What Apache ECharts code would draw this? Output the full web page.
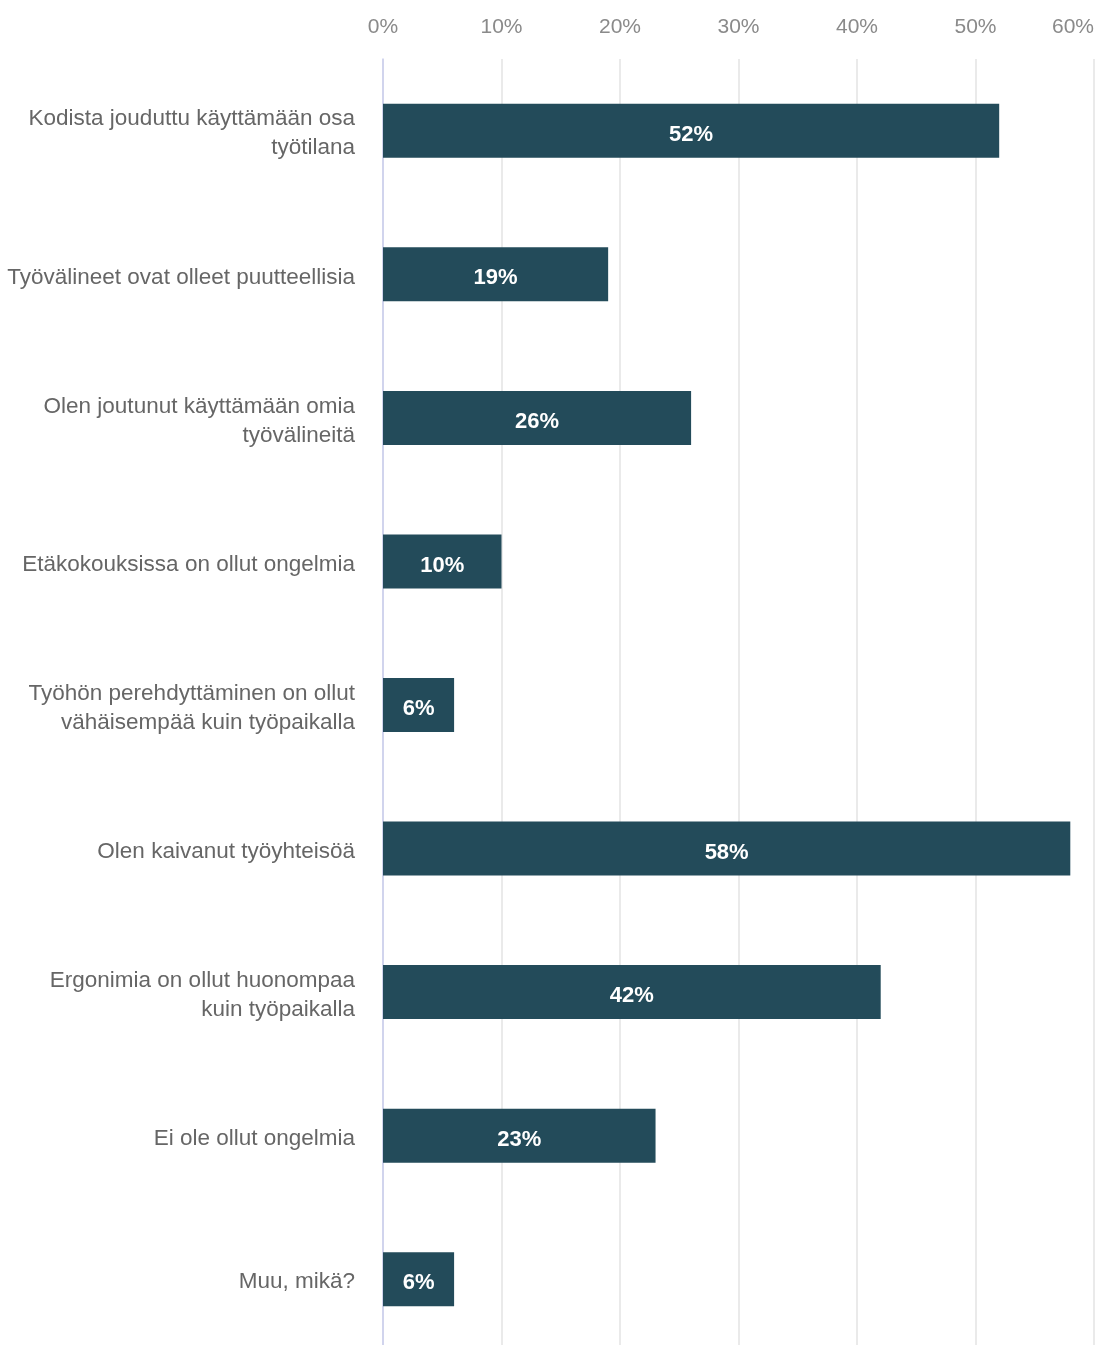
<!DOCTYPE html>
<html>
<head>
<meta charset="utf-8">
<script src="https://cdn.jsdelivr.net/npm/echarts@6/dist/echarts.min.js"></script>
<style>
  html, body { margin: 0; padding: 0; background: #ffffff; overflow: hidden; }
  /* plot area runs a little past the bottom edge of the page */
  #chart { width: 1097px; height: 1360px; }
</style>
</head>
<body>
<div id="chart"></div>
<script>
// Survey answers: problems encountered while working remotely
const categories = [
  'Kodista jouduttu käyttämään osa\ntyötilana',
  'Työvälineet ovat olleet puutteellisia',
  'Olen joutunut käyttämään omia\ntyövälineitä',
  'Etäkokouksissa on ollut ongelmia',
  'Työhön perehdyttäminen on ollut\nvähäisempää kuin työpaikalla',
  'Olen kaivanut työyhteisöä',
  'Ergonimia on ollut huonompaa\nkuin työpaikalla',
  'Ei ole ollut ongelmia',
  'Muu, mikä?'
];
const shares = [52, 19, 26, 10, 6, 58, 42, 23, 6];
const axisMax = 60;
const axisStep = 10;

const chart = echarts.init(document.getElementById('chart'), null, { renderer: 'canvas' });
const font = '"Liberation Sans", Arial, Helvetica, sans-serif';

chart.setOption({
  animation: false,
  backgroundColor: '#ffffff',
  grid: { left: 383, right: 2, top: 59, height: 1292, containLabel: false },
  xAxis: {
    type: 'value',
    position: 'top',
    min: 0,
    max: axisMax,
    interval: axisStep,
    axisLine: { show: false },
    axisTick: { show: false },
    splitLine: { show: true, lineStyle: { color: '#e3e3e3', width: 1.5 } },
    axisLabel: {
      formatter: '{value}%',
      color: '#8a8a8a',
      fontSize: 21,
      fontFamily: font,
      margin: 21,
      alignMaxLabel: 'right'
    }
  },
  yAxis: {
    type: 'category',
    data: categories,
    inverse: true,
    axisLine: { show: true, lineStyle: { color: '#c9cdee', width: 1.5 } },
    axisTick: { show: false },
    splitLine: { show: false },
    axisLabel: {
      align: 'right',
      margin: 28,
      // each line is wrapped in a rich token so it can sit slightly low
      formatter: (value) => value.split('\n').map((line) => '{t|' + line + '}').join('\n'),
      rich: {
        t: {
          color: '#666666',
          fontSize: 22.5,
          fontFamily: font,
          lineHeight: 29,
          padding: [6, 0, 0, 0],
          align: 'right'
        }
      }
    }
  },
  series: [{
    type: 'bar',
    data: shares,
    barWidth: '37.6%',
    itemStyle: { color: '#234b5a' },
    label: {
      show: true,
      position: 'inside',
      offset: [0, 4],
      formatter: '{c}%',
      color: '#ffffff',
      fontWeight: 'bold',
      fontSize: 22,
      fontFamily: font
    }
  }]
});
</script>
</body>
</html>
